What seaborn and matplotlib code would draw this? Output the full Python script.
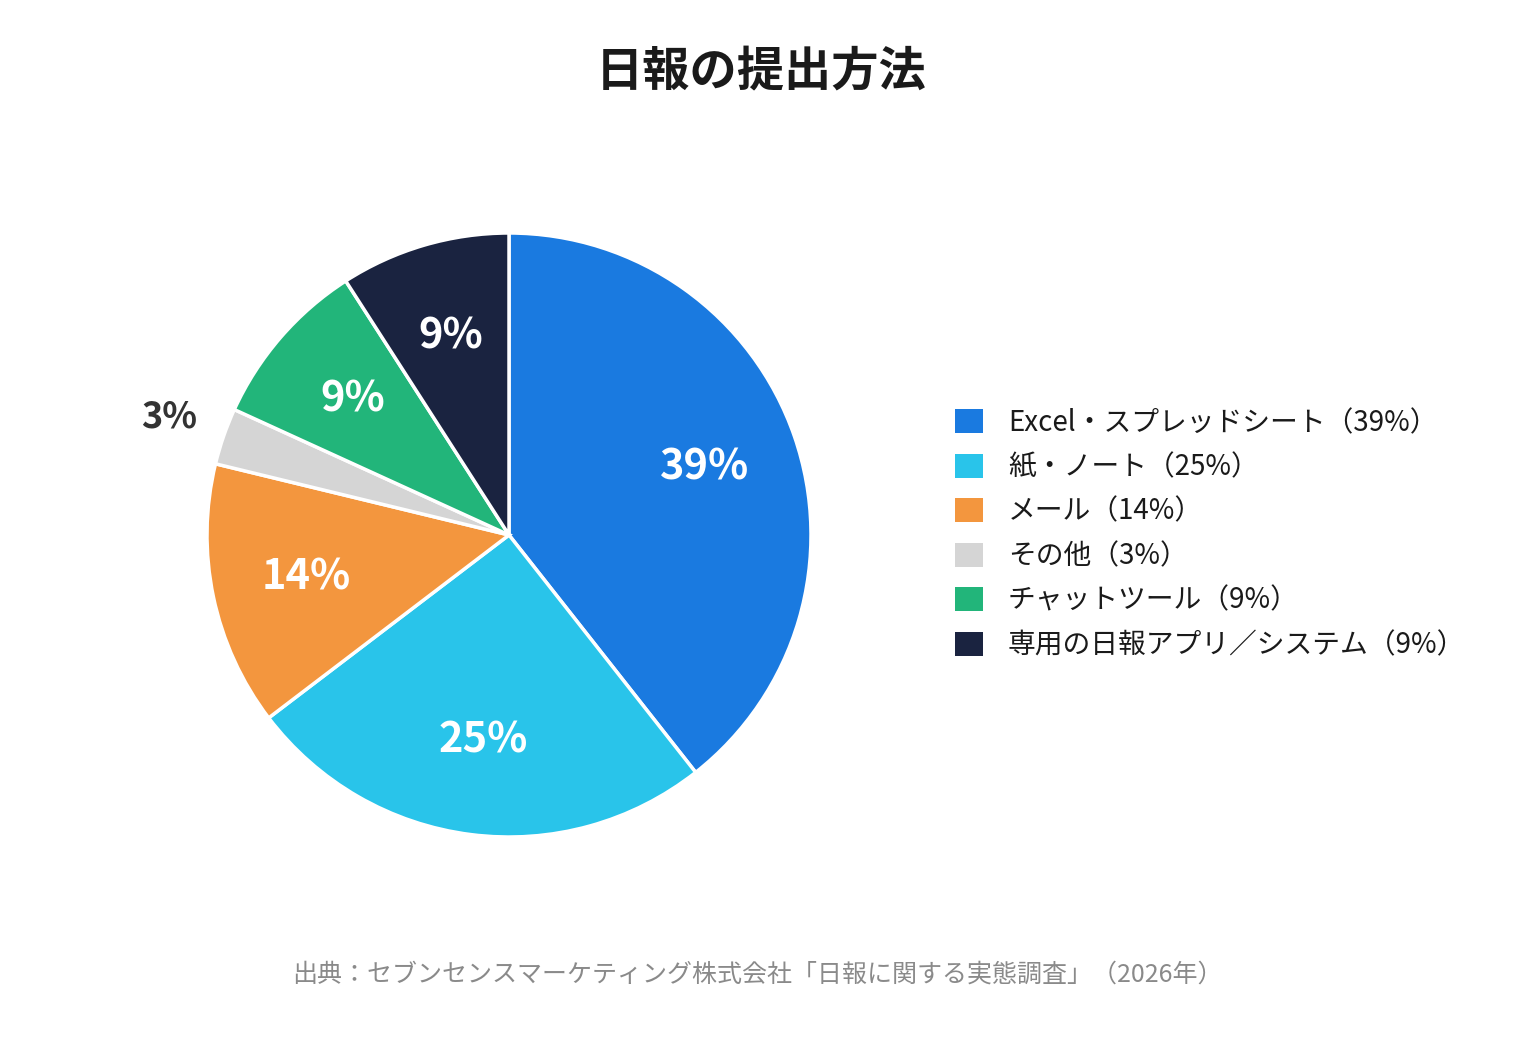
import numpy as np
import matplotlib
matplotlib.use("Agg")
import matplotlib.pyplot as plt
from matplotlib.patches import Patch
import seaborn as sns

# data
categories = ["Excel・スプレッドシート", "紙・ノート", "メール", "その他",
              "チャットツール", "専用の日報アプリ／システム"]
shares = [39, 25, 14, 3, 9, 9]
colors = ["#1a7ae0", "#29c4ea", "#f3963e", "#d5d5d5", "#22b57a", "#1a2340"]
title = "日報の提出方法"
source = "出典：セブンセンスマーケティング株式会社「日報に関する実態調査」（2026年）"

sns.set_theme(style="white")
plt.rcParams['font.family'] = ['Noto Sans CJK JP', 'DejaVu Sans']

W, H = 1520, 1040
fig = plt.figure(figsize=(W / 100, H / 100), dpi=100)
fig.patch.set_facecolor("white")

# pie axes placed around center (509, 535), radius ~302px
R = 302
cx, cy = 509, 535
side = 2 * 1.25 * R
ax = fig.add_axes([(cx - side / 2) / W, 1 - (cy + side / 2) / H, side / W, side / H])
palette = sns.color_palette(colors)
wedges, _ = ax.pie(shares, colors=palette, startangle=90, counterclock=False,
                   wedgeprops=dict(edgecolor="white", linewidth=2.5))
ax.set_xlim(-1.25, 1.25)
ax.set_ylim(-1.25, 1.25)
ax.set_aspect("equal")
ax.axis("off")

# percent labels
for w, v in zip(wedges, shares):
    mid = np.deg2rad((w.theta1 + w.theta2) / 2)
    if v < 5:
        r, col, fs = 1.19, "#333333", 26
    else:
        r, col, fs = 0.685, "white", 30
    ax.text(r * np.cos(mid), r * np.sin(mid), f"{v}%", ha="center", va="center",
            fontsize=fs, fontweight="bold", color=col)

fig.text(761 / W, 1 - 71 / H, title, ha="center", va="center",
         fontsize=34, fontweight="bold", color="#1a1a1a")

handles = [Patch(facecolor=c, edgecolor="none") for c in colors]
labels = [f"{c}（{v}%）" for c, v in zip(categories, shares)]
fig.legend(handles, labels, loc="center left", bbox_to_anchor=(955 / W, 1 - 534 / H),
           frameon=False, fontsize=20, handlelength=1.0, handleheight=0.95,
           handletextpad=0.9, labelspacing=0.52, borderpad=0, borderaxespad=0,
           labelcolor="#1a1a1a")

fig.text(757 / W, 1 - 975 / H, source, ha="center", va="center",
         fontsize=18, color="#8a8a8a")

fig.savefig("out.png", dpi=100, facecolor="white")
